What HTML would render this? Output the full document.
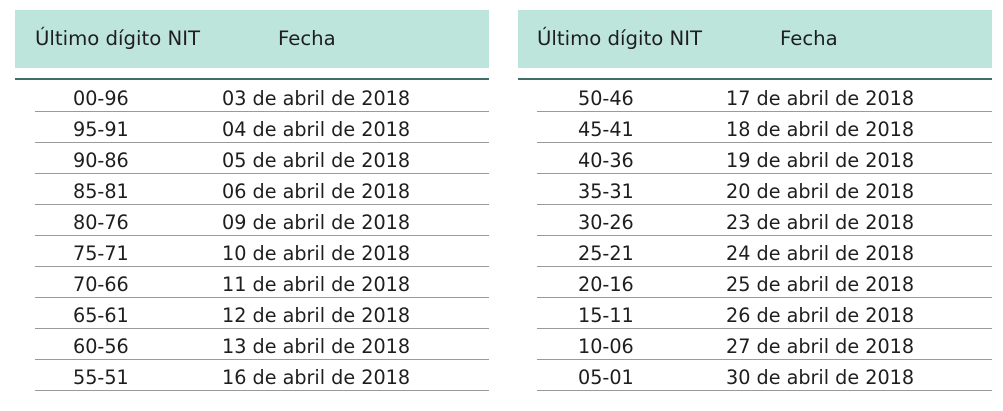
<!DOCTYPE html>
<html><head><meta charset="utf-8"><style>
body{margin:0;width:1003px;height:411px;background:#fff;position:relative;overflow:hidden;font-family:"DejaVu Sans","Liberation Sans",sans-serif;color:#1e1e1e;font-size:19.2px}
.hd{position:absolute;top:10px;height:58px;width:474px;background:#bde5dc}
.hl{position:absolute;top:78px;height:2px;width:474px;background:#3f6f68}
.rl{position:absolute;height:1px;background:#9a9a9a}
.t{position:absolute;white-space:nowrap;line-height:22px}
.h{font-size:19.7px}
</style></head><body>
<div class="hd" style="left:15px"></div><div class="hd" style="left:518px"></div>
<div class="hl" style="left:15px"></div><div class="hl" style="left:518px"></div>
<div class="t h" style="left:35px;top:28px">Último dígito NIT</div>
<div class="t h" style="left:278px;top:28px">Fecha</div>
<div class="t h" style="left:537px;top:28px">Último dígito NIT</div>
<div class="t h" style="left:780px;top:28px">Fecha</div>
<div id="rows"></div>
<script>
var L=[["00-96","03"],["95-91","04"],["90-86","05"],["85-81","06"],["80-76","09"],["75-71","10"],["70-66","11"],["65-61","12"],["60-56","13"],["55-51","16"]];
var R=[["50-46","17"],["45-41","18"],["40-36","19"],["35-31","20"],["30-26","23"],["25-21","24"],["20-16","25"],["15-11","26"],["10-06","27"],["05-01","30"]];
var h="";
for(var i=0;i<10;i++){var y=81+i*31;
h+='<div class="t" style="left:73px;top:'+(y+7)+'px">'+L[i][0]+'</div><div class="t" style="left:222px;top:'+(y+7)+'px">'+L[i][1]+' de abril de 2018</div>';
h+='<div class="t" style="left:578px;top:'+(y+7)+'px">'+R[i][0]+'</div><div class="t" style="left:726px;top:'+(y+7)+'px">'+R[i][1]+' de abril de 2018</div>';
h+='<div class="rl" style="left:35px;width:454px;top:'+(y+30)+'px"></div><div class="rl" style="left:537px;width:455px;top:'+(y+30)+'px"></div>';}
document.getElementById("rows").innerHTML=h;
</script>
</body></html>
